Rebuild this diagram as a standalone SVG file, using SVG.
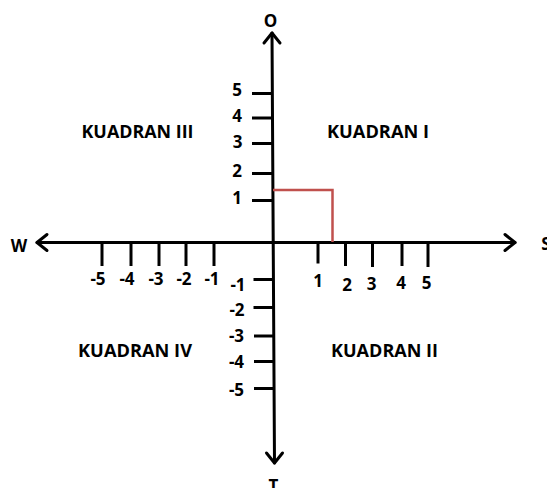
<svg xmlns="http://www.w3.org/2000/svg" width="547" height="488" viewBox="0 0 547 488">
<style>
.ax{stroke:#000;stroke-width:3;fill:none;stroke-linecap:round}
.tk{stroke:#000;stroke-width:3;fill:none}
.ah{stroke:#000;stroke-width:3;fill:none;stroke-linecap:round;stroke-linejoin:round}
.lb{font-family:"Open Sans","Liberation Sans",sans-serif;font-weight:bold;font-size:17px;fill:#000;text-anchor:middle;dominant-baseline:central}
.q{font-family:"Open Sans","Liberation Sans",sans-serif;font-weight:bold;font-size:17px;fill:#000;text-anchor:middle;dominant-baseline:central}
.red{stroke:#c0504d;stroke-width:2.5;fill:none}
</style>
<rect width="547" height="488" fill="#fff"/>
<g id="connectors">
<line class="ax" x1="272" y1="33" x2="274.5" y2="463"/>
<line class="ax" x1="37" y1="242.5" x2="515" y2="242.5"/>
<polyline class="ah" points="264,43 272,33 280,43"/>
<polyline class="ah" points="266.5,453 274.5,463 282.5,453"/>
<polyline class="ah" points="47,234.5 37,242.5 47,250.5"/>
<polyline class="ah" points="505,234.5 515,242.5 505,250.5"/>
</g>
<g id="ticks">
<line class="tk" x1="252" y1="93.5" x2="272" y2="93.5"/>
<line class="tk" x1="252" y1="118" x2="272" y2="118"/>
<line class="tk" x1="252" y1="143.5" x2="272" y2="143.5"/>
<line class="tk" x1="252" y1="173.5" x2="272" y2="173.5"/>
<line class="tk" x1="252" y1="200.5" x2="273" y2="200.5"/>
<line class="tk" x1="253.5" y1="279.5" x2="273.5" y2="279.5"/>
<line class="tk" x1="253.5" y1="307.5" x2="273.5" y2="307.5"/>
<line class="tk" x1="254" y1="336" x2="274" y2="336"/>
<line class="tk" x1="254" y1="361.5" x2="274" y2="361.5"/>
<line class="tk" x1="254" y1="388.5" x2="274" y2="388.5"/>
<line class="tk" x1="102" y1="242.5" x2="102" y2="266"/>
<line class="tk" x1="131" y1="242.5" x2="131" y2="266"/>
<line class="tk" x1="159" y1="242.5" x2="159" y2="266"/>
<line class="tk" x1="186" y1="242.5" x2="186" y2="266"/>
<line class="tk" x1="214" y1="242.5" x2="214" y2="266"/>
<line class="tk" x1="318" y1="242.5" x2="318" y2="263.5"/>
<line class="tk" x1="345.5" y1="242.5" x2="345.5" y2="266"/>
<line class="tk" x1="372.5" y1="242.5" x2="372.5" y2="267"/>
<line class="tk" x1="402" y1="242.5" x2="402" y2="266"/>
<line class="tk" x1="428" y1="242.5" x2="428" y2="267"/>
</g>
<g id="marker-red">
<polyline class="red" points="273,190 332.5,190 332.5,242"/>
</g>
<g id="axis-labels">
<text class="lb" x="270.5" y="20">O</text>
<text class="lb" x="19" y="245">W</text>
<text class="lb" x="546" y="243.5">S</text>
<text class="lb" x="273.5" y="485">T</text>
</g>
<g id="tick-labels">
<text class="lb" x="237" y="89">5</text>
<text class="lb" x="237" y="115">4</text>
<text class="lb" x="237.5" y="141">3</text>
<text class="lb" x="237" y="170">2</text>
<text class="lb" x="237" y="197">1</text>
<text class="lb" x="238" y="284">-1</text>
<text class="lb" x="237" y="309">-2</text>
<text class="lb" x="236.5" y="335">-3</text>
<text class="lb" x="236.5" y="361">-4</text>
<text class="lb" x="236.5" y="389">-5</text>
<text class="lb" x="98" y="278.5">-5</text>
<text class="lb" x="127" y="278.5">-4</text>
<text class="lb" x="156" y="278.5">-3</text>
<text class="lb" x="184" y="278.5">-2</text>
<text class="lb" x="212" y="278.5">-1</text>
<text class="lb" x="318" y="280">1</text>
<text class="lb" x="347" y="284">2</text>
<text class="lb" x="371.5" y="283">3</text>
<text class="lb" x="401" y="282">4</text>
<text class="lb" x="426.5" y="282">5</text>
</g>
<g id="kuadran-iii"><text class="q" x="137.5" y="131.5" textLength="112" lengthAdjust="spacingAndGlyphs">KUADRAN III</text></g>
<g id="kuadran-i"><text class="q" x="378" y="131.5" textLength="102" lengthAdjust="spacingAndGlyphs">KUADRAN I</text></g>
<g id="kuadran-iv"><text class="q" x="135" y="350" textLength="114" lengthAdjust="spacingAndGlyphs">KUADRAN IV</text></g>
<g id="kuadran-ii"><text class="q" x="384.5" y="350" textLength="107" lengthAdjust="spacingAndGlyphs">KUADRAN II</text></g>
</svg>
